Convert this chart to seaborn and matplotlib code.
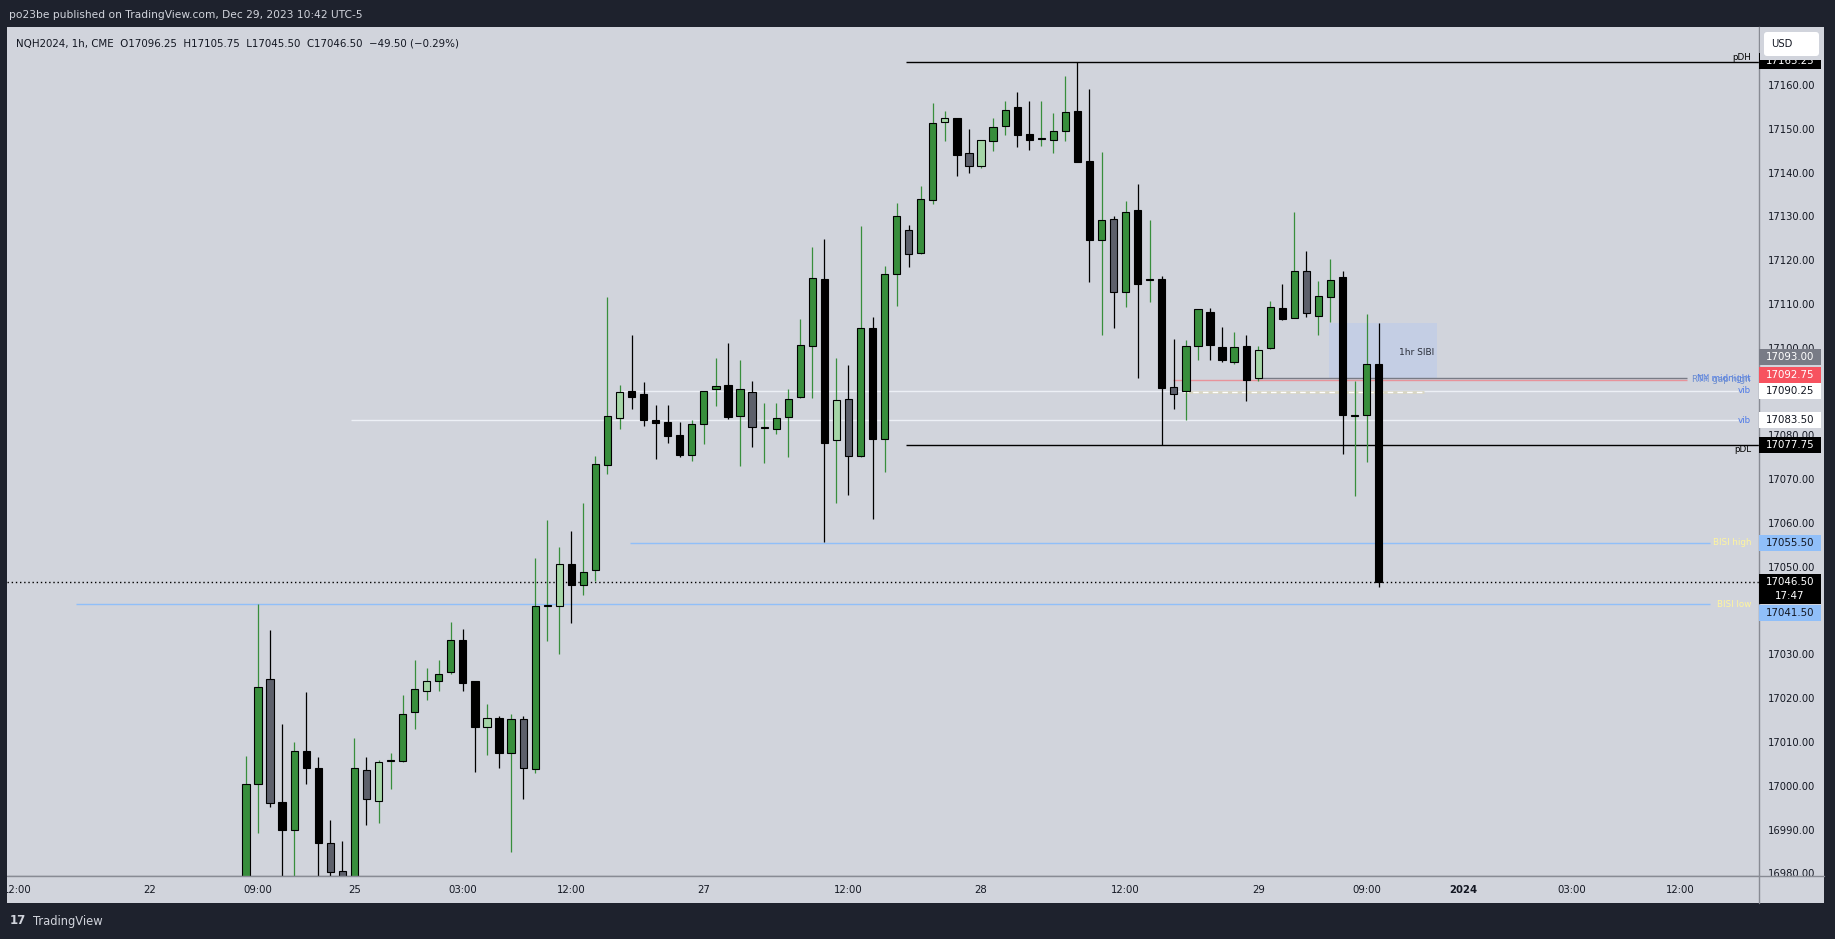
import matplotlib
matplotlib.use("Agg")
import matplotlib.pyplot as plt
from matplotlib.patches import Rectangle, FancyBboxPatch
from matplotlib.transforms import IdentityTransform
import numpy as np
import pandas as pd
import seaborn as sns

# NQH2024 1h candles, bar 0 = Dec 22 08:00 (UTC-5), last bar = Dec 29 10:00
opens = [16972.0, 17000.5, 17024.5, 16996.25, 16990.0, 17008.0, 17004.0, 16987.0, 16980.5, 16978.0,
         17003.5, 16996.5, 17005.75, 17005.75, 17016.75, 17021.75, 17024.0, 17026.0, 17033.25, 17024.0,
         17013.5, 17015.5, 17007.5, 17015.25, 17003.75, 17041.0, 17041.0, 17050.75, 17045.75, 17049.25,
         17073.25, 17084.0, 17090.25, 17089.5, 17083.5, 17083.0, 17080.0, 17075.5, 17082.5, 17090.5,
         17091.5, 17084.5, 17090.0, 17081.75, 17081.5, 17084.25, 17088.75, 17100.5, 17115.75, 17079.0,
         17088.25, 17075.25, 17104.5, 17079.25, 17116.75, 17127.0, 17121.75, 17133.75, 17151.5, 17152.5,
         17144.5, 17141.5, 17147.25, 17150.75, 17155.0, 17148.75, 17147.75, 17147.5, 17149.5, 17154.0,
         17142.75, 17124.5, 17129.5, 17112.75, 17131.5, 17115.5, 17115.75, 17091.0, 17090.25, 17100.5,
         17108.25, 17100.25, 17096.75, 17100.5, 17093.0, 17100.0, 17109.0, 17106.75, 17117.5, 17107.25,
         17111.5, 17116.25, 17084.5, 17084.75, 17096.25]
highs = [17006.75, 17041.5, 17035.5, 17014.0, 17010.0, 17021.5, 17006.5, 16992.25, 16987.5, 17011.0,
         17006.5, 17006.0, 17007.5, 17020.75, 17028.75, 17027.0, 17028.75, 17037.5, 17035.75, 17024.0,
         17018.75, 17016.0, 17016.5, 17016.0, 17052.0, 17060.75, 17054.5, 17058.25, 17064.5, 17075.25,
         17111.5, 17091.5, 17103.0, 17092.25, 17087.0, 17087.0, 17083.0, 17083.5, 17090.25, 17097.75,
         17101.0, 17097.25, 17092.5, 17087.5, 17087.5, 17090.5, 17106.5, 17123.0, 17124.75, 17097.75,
         17096.0, 17127.75, 17107.0, 17118.75, 17133.0, 17128.0, 17137.0, 17156.0, 17154.0, 17152.5,
         17150.0, 17147.5, 17152.5, 17156.25, 17158.5, 17156.25, 17156.25, 17153.5, 17162.0, 17165.25,
         17159.0, 17144.75, 17130.0, 17133.5, 17137.5, 17129.25, 17116.5, 17102.0, 17101.75, 17108.75,
         17109.0, 17104.75, 17103.5, 17103.0, 17100.5, 17110.75, 17114.5, 17131.0, 17122.0, 17115.25,
         17120.25, 17117.5, 17092.5, 17107.75, 17105.75]
lows = [16968.0, 16989.25, 16995.25, 16975.0, 16977.0, 17000.5, 16977.5, 16978.0, 16976.0, 16976.0,
        16991.0, 16991.5, 16999.25, 17005.5, 17013.0, 17019.5, 17021.75, 17025.5, 17021.75, 17003.25,
        17007.0, 17004.0, 16985.0, 16997.0, 17003.0, 17033.0, 17030.0, 17037.25, 17043.5, 17046.75,
        17071.25, 17081.5, 17086.0, 17082.25, 17074.5, 17078.25, 17075.0, 17074.25, 17078.0, 17086.75,
        17083.75, 17073.0, 17077.25, 17073.75, 17080.25, 17075.0, 17088.5, 17088.5, 17055.75, 17064.5,
        17066.5, 17075.0, 17061.0, 17071.75, 17109.5, 17118.5, 17121.5, 17132.75, 17147.25, 17139.25,
        17140.0, 17141.0, 17145.0, 17148.5, 17145.75, 17145.25, 17146.0, 17144.5, 17147.25, 17142.5,
        17115.0, 17103.0, 17104.5, 17109.25, 17093.0, 17110.5, 17077.75, 17086.0, 17083.5, 17097.25,
        17097.25, 17096.75, 17096.25, 17087.75, 17092.5, 17099.75, 17106.25, 17106.75, 17107.0, 17103.0,
        17106.0, 17075.75, 17066.25, 17074.0, 17045.5]
closes = [17000.5, 17022.5, 16996.0, 16990.0, 17008.0, 17004.0, 16987.0, 16980.25, 16978.0, 17004.0,
          16997.0, 17005.5, 17005.75, 17016.5, 17022.0, 17024.0, 17025.5, 17033.25, 17023.5, 17013.5,
          17015.5, 17007.5, 17015.25, 17004.0, 17041.0, 17041.0, 17050.75, 17045.75, 17048.75, 17073.5,
          17084.5, 17090.0, 17088.75, 17083.5, 17082.75, 17079.75, 17075.5, 17082.5, 17090.25, 17091.25,
          17084.25, 17090.5, 17082.0, 17081.75, 17084.0, 17088.25, 17100.75, 17116.0, 17078.25, 17088.0,
          17075.25, 17104.5, 17079.25, 17116.75, 17130.0, 17121.5, 17134.0, 17151.25, 17152.5, 17144.0,
          17141.5, 17147.5, 17150.5, 17154.25, 17148.5, 17147.5, 17147.75, 17149.5, 17153.75, 17142.5,
          17124.5, 17129.25, 17112.75, 17131.0, 17114.5, 17115.5, 17090.75, 17089.5, 17100.5, 17108.75,
          17100.75, 17097.25, 17100.25, 17092.75, 17099.5, 17109.25, 17106.5, 17117.5, 17108.0, 17111.75,
          17115.5, 17084.75, 17084.5, 17096.25, 17046.5]
# candle colour class: g = green, lg = light green, k = black, gr = grey
kinds = ["g", "g", "gr", "k", "g", "k", "k", "gr", "gr", "g",
         "gr", "lg", "g", "g", "g", "lg", "g", "g", "k", "k",
         "lg", "k", "g", "gr", "g", "g", "lg", "k", "g", "g",
         "g", "lg", "k", "k", "k", "k", "k", "g", "g", "g",
         "k", "g", "gr", "g", "g", "g", "g", "g", "k", "lg",
         "gr", "g", "k", "g", "g", "gr", "g", "g", "lg", "k",
         "gr", "lg", "g", "g", "k", "k", "g", "g", "g", "k",
         "k", "g", "gr", "g", "k", "g", "k", "gr", "g", "g",
         "k", "k", "g", "k", "lg", "g", "k", "g", "gr", "g",
         "g", "k", "g", "g", "k"]

time_ticks = [-19, -8, 1, 9, 18, 27, 38, 50, 61, 73, 84, 93, 101, 110, 119]
time_labels = ["12:00", "22", "09:00", "25", "03:00", "12:00", "27", "12:00", "28",
               "12:00", "29", "09:00", "2024", "03:00", "12:00"]
price_ticks = list(range(16980, 17161, 10))

# drawn levels
pdh, pdl = 17165.25, 17077.75
level_start = 54.8
bisi_high, bisi_low = 17055.5, 17041.5
bisi_high_start, bisi_low_start = 31.9, -14.1
vib_prices = [17090.25, 17083.5]
vib_starts = [31.0, 8.7]
ny_midnight, rth_gap = 17093.0, 17092.75
ny_start, rth_start = 83.8, 76.9
dash_price, dash_span = 17090.0, (77.8, 97.8)
sibi_span, sibi_prices = (89.9, 98.8), (17093.0, 17105.75)
last_price, countdown = 17046.5, "17:47"

sns.set_theme(style="white")
plt.rcParams["font.family"] = ["DejaVu Sans"]

W, H = 1835, 939
BG, PANEL, TXT = "#1E222D", "#D1D4DC", "#131722"
fig = plt.figure(figsize=(W / 100, H / 100), dpi=100, facecolor=BG)

ID = IdentityTransform()


def fy(y):
    return H - y


# light panel behind chart, price axis and time axis
fig.add_artist(Rectangle((7, fy(903)), 1824 - 7, 903 - 27, transform=ID, fc=PANEL, ec="none", zorder=-1))

ax = fig.add_axes([7 / W, (H - 876) / H, (1759 - 7) / W, (876 - 27) / H])
ax.set_facecolor(PANEL)
ax.set_xlim(-19.83, 125.56)
ax.set_ylim(16979.41, 17173.24)

df = pd.DataFrame({"open": opens, "high": highs, "low": lows, "close": closes, "kind": kinds})
df["idx"] = np.arange(len(df))
body_col = {"g": "#388E3C", "lg": "#A5D6A7", "k": "#000000", "gr": "#5D606B"}
wick_col = {"g": "#388E3C", "lg": "#388E3C", "k": "#000000", "gr": "#000000"}
lo = df[["open", "close"]].min(axis=1)
hi = df[["open", "close"]].max(axis=1)

ax.vlines(df["idx"], df["low"], df["high"], colors=df["kind"].map(wick_col).tolist(), lw=0.9, zorder=3)
ax.bar(df["idx"], (hi - lo).clip(lower=0.2), bottom=lo, width=0.6,
       color=df["kind"].map(body_col).tolist(), edgecolor="black", linewidth=0.8, zorder=4)

# levels
xr = ax.get_xlim()[1]
label_x = 119.6
ax.hlines([pdh, pdl], level_start, xr, color="black", lw=1, zorder=2)
ax.hlines(bisi_high, bisi_high_start, 121.5, color="#90BFF9", lw=1, zorder=2)
ax.hlines(bisi_low, bisi_low_start, 121.5, color="#90BFF9", lw=1, zorder=2)
ax.hlines(vib_prices, vib_starts, 123.8, color="#EDF0F6", lw=1, zorder=2)
ax.hlines(rth_gap, rth_start, label_x, color="#E8929A", lw=1, zorder=2)
ax.hlines(ny_midnight, ny_start, label_x, color="#787B86", lw=1, zorder=2)
ax.hlines(dash_price, *dash_span, color="#D8D6C4", lw=2, zorder=2)
ax.hlines(dash_price, *dash_span, color="white", lw=1, linestyles=(0, (4, 3)), zorder=2)
ax.add_patch(Rectangle((sibi_span[0], sibi_prices[0]), sibi_span[1] - sibi_span[0],
                       sibi_prices[1] - sibi_prices[0], fc="#C4CEE4", ec="none", zorder=1))
ax.text(sibi_span[1] - 0.2, 17099.0, "1hr SIBI", ha="right", va="center", fontsize=6.5, color="#2A2E39", zorder=5)
ax.axhline(last_price, color="black", lw=1, ls=(0, (1, 2)), zorder=2)

tr = ax.get_yaxis_transform()
ax.text(0.9955, pdh, "pDH", transform=tr, ha="right", va="bottom", fontsize=6.3, color="black")
ax.text(0.9955, pdl, "pDL", transform=tr, ha="right", va="top", fontsize=6.3, color="black")
for p in vib_prices:
    ax.text(0.9955, p, "vib", transform=tr, ha="right", va="center", fontsize=6.3, color="#4F7BE8")
ax.text(0.9955, bisi_high, "BISI high", transform=tr, ha="right", va="center", fontsize=6.3, color="#FFF59D")
ax.text(0.9955, bisi_low, "BISI low", transform=tr, ha="right", va="center", fontsize=6.3, color="#FFF59D")
# these two labels sit on top of each other in the original as well
ax.text(0.9955, ny_midnight, "NY midnight", transform=tr, ha="right", va="center", fontsize=6.3, color="#4F7BE8")
ax.text(0.9955, rth_gap, "RTH gap high", transform=tr, ha="right", va="center", fontsize=6.3, color="#6A8CCF")

# axes look
for s in ["top", "left"]:
    ax.spines[s].set_visible(False)
for s in ["right", "bottom"]:
    ax.spines[s].set_color("#888B94")
    ax.spines[s].set_linewidth(1)
ax.yaxis.tick_right()
ax.set_yticks(price_ticks)
ax.set_yticklabels([f"{p:.2f}" for p in price_ticks])
ax.tick_params(axis="y", length=0, pad=6.2, labelsize=7.2, labelcolor=TXT)
ax.set_xticks([])
ax.grid(False)

# time axis strip
fig.add_artist(Rectangle((7, fy(903)), 1824 - 7, 27, transform=ID, fc=PANEL, ec="none", zorder=1))
fig.add_artist(plt.Line2D([7, 1824], [fy(876), fy(876)], transform=ID, color="#888B94", lw=1, zorder=2))
fig.add_artist(plt.Line2D([1759, 1759], [fy(903), fy(876)], transform=ID, color="#888B94", lw=1, zorder=2))
for t, lab in zip(time_ticks, time_labels):
    xd = ax.transData.transform((t, 0))[0]
    fig.text(xd, fy(890), lab, transform=ID, ha="center", va="center", fontsize=7.3, color=TXT,
             fontweight="bold" if lab == "2024" else "normal", zorder=3)
fig.add_artist(Rectangle((0, fy(903)), 7, 903 - 27, transform=ID, fc=BG, ec="none", zorder=4))


def price_y(p):
    return ax.transData.transform((0, p))[1]


def axis_box(yc, text, fc, tc, h=16, z=6):
    fig.add_artist(Rectangle((1759, yc - h / 2), 62, h, transform=ID, fc=fc, ec="none", zorder=z))
    fig.text(1790, yc, text, transform=ID, ha="center", va="center", fontsize=7.4, color=tc, zorder=z + 0.5)


axis_box(price_y(pdh) + 1, f"{pdh:.2f}", "black", "white")
axis_box(price_y(ny_midnight) + 21, f"{ny_midnight:.2f}", "#787B86", "white")
axis_box(price_y(rth_gap) + 5, f"{rth_gap:.2f}", "#F7525F", "white")
for p in vib_prices:
    axis_box(price_y(p), f"{p:.2f}", "white", TXT)
axis_box(price_y(pdl), f"{pdl:.2f}", "black", "white")
axis_box(price_y(bisi_high), f"{bisi_high:.2f}", "#90BFF9", TXT)
axis_box(price_y(bisi_low) - 9, f"{bisi_low:.2f}", "#90BFF9", TXT)
yl = price_y(last_price)
fig.add_artist(Rectangle((1759, yl - 22), 62, 30, transform=ID, fc="black", ec="none", zorder=7))
fig.text(1790, yl, f"{last_price:.2f}", transform=ID, ha="center", va="center", fontsize=7.4, color="white", zorder=8)
fig.text(1790, yl - 14, countdown, transform=ID, ha="center", va="center", fontsize=7.4, color="white", zorder=8)

# currency box covers the top of the pDH price tag
fig.add_artist(Rectangle((1759.5, fy(59.5)), 64, 59.5 - 27, transform=ID, fc=PANEL, ec="none", zorder=9))
fig.add_artist(FancyBboxPatch((1764, fy(56)), 55, 24, boxstyle="round,pad=0,rounding_size=3",
                              transform=ID, fc="white", ec="none", zorder=10))
fig.text(1771, fy(44), "USD", transform=ID, ha="left", va="center", fontsize=7.2, color=TXT, zorder=11)

# header, legend, footer
fig.text(9, fy(15), "po23be published on TradingView.com, Dec 29, 2023 10:42 UTC-5", transform=ID,
         ha="left", va="center", fontsize=7.7, color="#D1D4DC")
fig.text(16, fy(43), "NQH2024, 1h, CME  O17096.25  H17105.75  L17045.50  C17046.50  \u221249.50 (\u22120.29%)",
         transform=ID, ha="left", va="center", fontsize=7.4, color=TXT, zorder=5)
fig.text(10, fy(921), "17", transform=ID, ha="left", va="center", fontsize=8.5, fontweight="bold", color="#D1D4DC")
fig.text(33, fy(921), "TradingView", transform=ID, ha="left", va="center", fontsize=8.3, color="#D1D4DC")

fig.savefig("out.png", dpi=100, facecolor=BG)
